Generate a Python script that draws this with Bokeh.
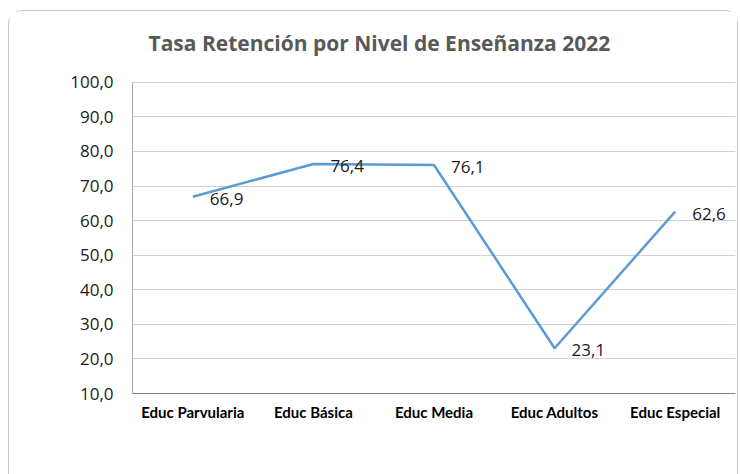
from bokeh.plotting import figure
from bokeh.models import ColumnDataSource, LabelSet, CustomJSTickFormatter, Range1d, FixedTicker
from bokeh.core.properties import value
from bokeh.embed import file_html
from bokeh.resources import INLINE

title_text = "Tasa Retención por Nivel de Enseñanza 2022"
categories = ["Educ Parvularia", "Educ Básica", "Educ Media", "Educ Adultos", "Educ Especial"]
values = [66.9, 76.4, 76.1, 23.1, 62.6]
labels = ["66,9", "76,4", "76,1", "23,1", "62,6"]
y_ticks = [10, 20, 30, 40, 50, 60, 70, 80, 90, 100]
y_min, y_max = 10, 100

src = ColumnDataSource(dict(cat=categories, val=values, lab=labels))

# extra headroom above the value axis holds the chart title inside the frame
p = figure(x_range=categories, y_range=Range1d(y_min, 117.6), width=730, height=464,
           output_backend="svg", toolbar_location=None,
           min_border_left=123, min_border_right=4, min_border_top=10, min_border_bottom=82)
p.margin = (10, 2, 0, 8)
p.styles = {"border": "1px solid #c8c8c8", "border-bottom": "none",
            "border-radius": "14px 14px 0 0"}
p.outline_line_color = None
p.background_fill_color = "white"
p.border_fill_color = "white"

p.text(x=[0], y=[111.3], text=[title_text], x_offset=16,
       text_font=value("Open Sans"), text_font_size="21px", text_font_style="bold",
       text_color="#595959", text_baseline="middle", text_align="left")

p.line("cat", "val", source=src, line_color="#5B9BD5", line_width=2.5)

ls = LabelSet(x="cat", y="val", text="lab", source=src, x_offset=17, y_offset=-2,
              text_baseline="middle", text_align="left", text_font=value("Open Sans"),
              text_font_size="17px", text_color="#1a1a1a")
p.add_layout(ls)

p.yaxis.bounds = (y_min, y_max)
p.yaxis.ticker = FixedTicker(ticks=y_ticks)
p.yaxis.formatter = CustomJSTickFormatter(code="return tick.toFixed(1).replace('.', ',');")
p.yaxis.major_label_text_font = "Open Sans"
p.yaxis.major_label_text_font_size = "17px"
p.yaxis.major_label_text_color = "#1a1a1a"
p.yaxis.major_label_standoff = 19
p.yaxis.major_tick_line_color = None
p.yaxis.major_tick_out = 0
p.yaxis.major_tick_in = 0
p.yaxis.minor_tick_line_color = None
p.yaxis.axis_line_color = "#a6a6a6"

p.xaxis.major_label_text_font = "Lato"
p.xaxis.major_label_text_font_size = "15px"
p.xaxis.major_label_text_font_style = "bold"
p.xaxis.major_label_text_color = "#000000"
p.xaxis.major_label_standoff = 9
p.xaxis.major_tick_line_color = None
p.xaxis.major_tick_out = 0
p.xaxis.major_tick_in = 0
p.xaxis.axis_line_color = "#808080"

p.xgrid.grid_line_color = None
p.ygrid.grid_line_color = "#d0d0d0"
p.ygrid.grid_line_width = 1.2

open("out.html", "w").write(file_html(p, INLINE))
